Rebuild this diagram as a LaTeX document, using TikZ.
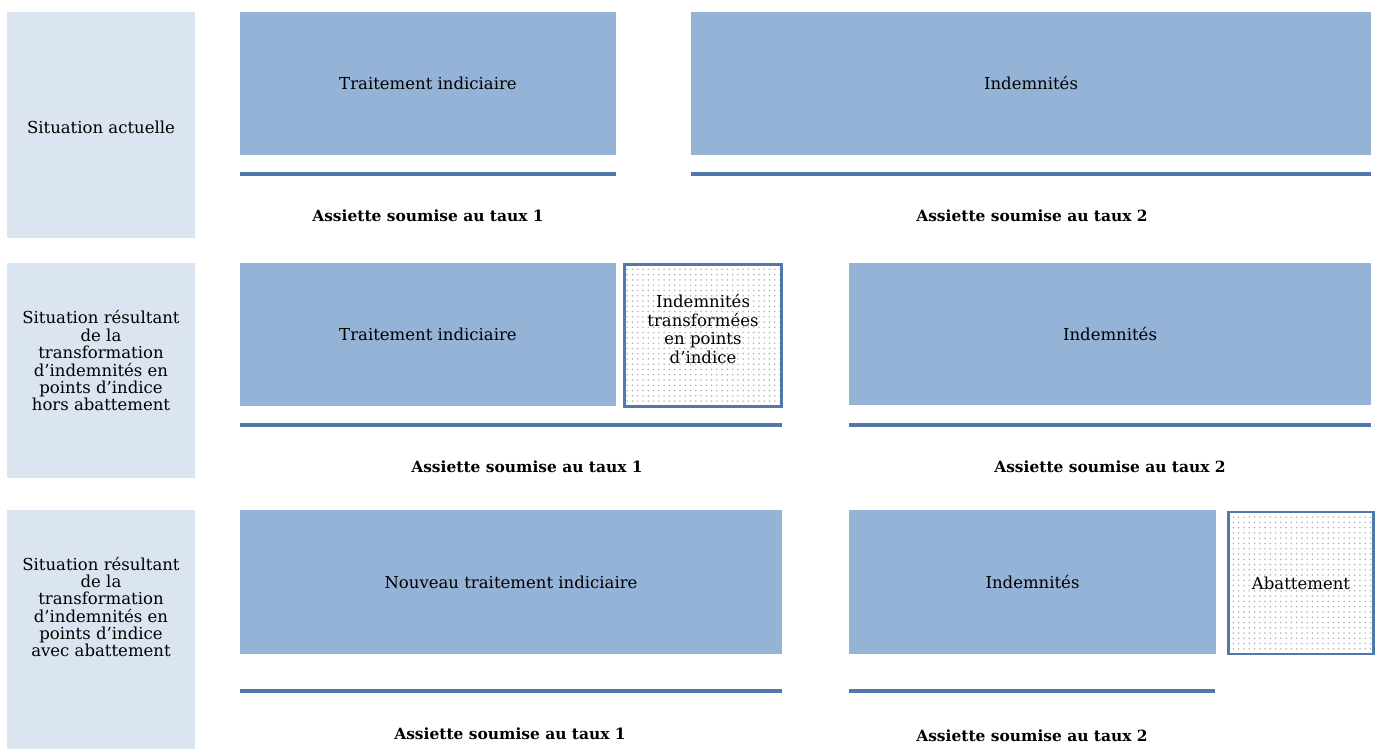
\documentclass[tikz,border=0pt]{standalone}
\usepackage{fontspec}
\setmainfont{DejaVu Serif}
\usetikzlibrary{patterns}
\definecolor{gris}{HTML}{DBE5F1}
\definecolor{bleu}{HTML}{95B3D7}
\definecolor{trait}{HTML}{4F78AD}
\begin{document}
\begin{tikzpicture}[x=0.02cm,y=-0.02cm]
\tikzstyle{every node}+=[inner sep=0pt, align=center, font=\fontsize{9.4}{9.9}\selectfont]
\tikzstyle{situation}=[fill=gris, minimum width=3.76cm]
\tikzstyle{bloc}=[fill=bleu, minimum height=2.86cm]
\tikzstyle{ajout}=[draw=trait, line width=1.6pt, pattern=dots, pattern color=black!30, minimum height=2.84cm]
\tikzstyle{assiette}=[draw=trait, line width=2.2pt]
\tikzstyle{taux}=[font=\fontsize{8.8}{9.9}\selectfont\bfseries]
\useasboundingbox (0,0) rectangle (1377,749);
\node [situation, minimum height=4.52cm] (s1) at (101,125) {};
\node (s1t) at (101,127) {Situation actuelle};
\node [situation, minimum height=4.30cm] (s2) at (101,370.5) {};
\node (s2t) at (101,361) {Situation résultant\\de la\\transformation\\d’indemnités en\\points d’indice\\hors abattement};
\node [situation, minimum height=4.78cm] (s3) at (101,629.5) {};
\node (s3t) at (101,607) {Situation résultant\\de la\\transformation\\d’indemnités en\\points d’indice\\avec abattement};
\node [bloc, minimum width=7.52cm] (ti1) at (428,83.5) {Traitement indiciaire};
\node [bloc, minimum width=13.6cm] (in1) at (1031,83.5) {Indemnités};
\draw [assiette] (240,174) -- (616,174);
\draw [assiette] (691,174) -- (1371,174);
\node [taux] (t11) at (428,216) {Assiette soumise au taux 1};
\node [taux] (t12) at (1032,216) {Assiette soumise au taux 2};
\node [bloc, minimum width=7.52cm] (ti2) at (428,334.5) {Traitement indiciaire};
\node [ajout, minimum width=3.14cm] (itp) at (703,335.5) {};
\node [font=\fontsize{9.4}{10.7}\selectfont] (itpt) at (703,329) {Indemnités\\transformées\\en points\\d’indice};
\node [bloc, minimum width=10.44cm] (in2) at (1110,334) {Indemnités};
\draw [assiette] (240,425) -- (782,425);
\draw [assiette] (849,425) -- (1371,425);
\node [taux] (t21) at (527,467) {Assiette soumise au taux 1};
\node [taux] (t22) at (1110,467) {Assiette soumise au taux 2};
\node [bloc, minimum width=10.84cm, minimum height=2.88cm] (nti) at (511,582) {Nouveau traitement indiciaire};
\node [bloc, minimum width=7.34cm, minimum height=2.88cm] (in3) at (1032.5,582) {Indemnités};
\node [ajout, minimum width=2.9cm] (aba) at (1301,583) {Abattement};
\draw [assiette] (240,691) -- (782,691);
\draw [assiette] (849,691) -- (1215,691);
\node [taux] (t31) at (510,734) {Assiette soumise au taux 1};
\node [taux] (t32) at (1032,736) {Assiette soumise au taux 2};
\end{tikzpicture}
\end{document}
